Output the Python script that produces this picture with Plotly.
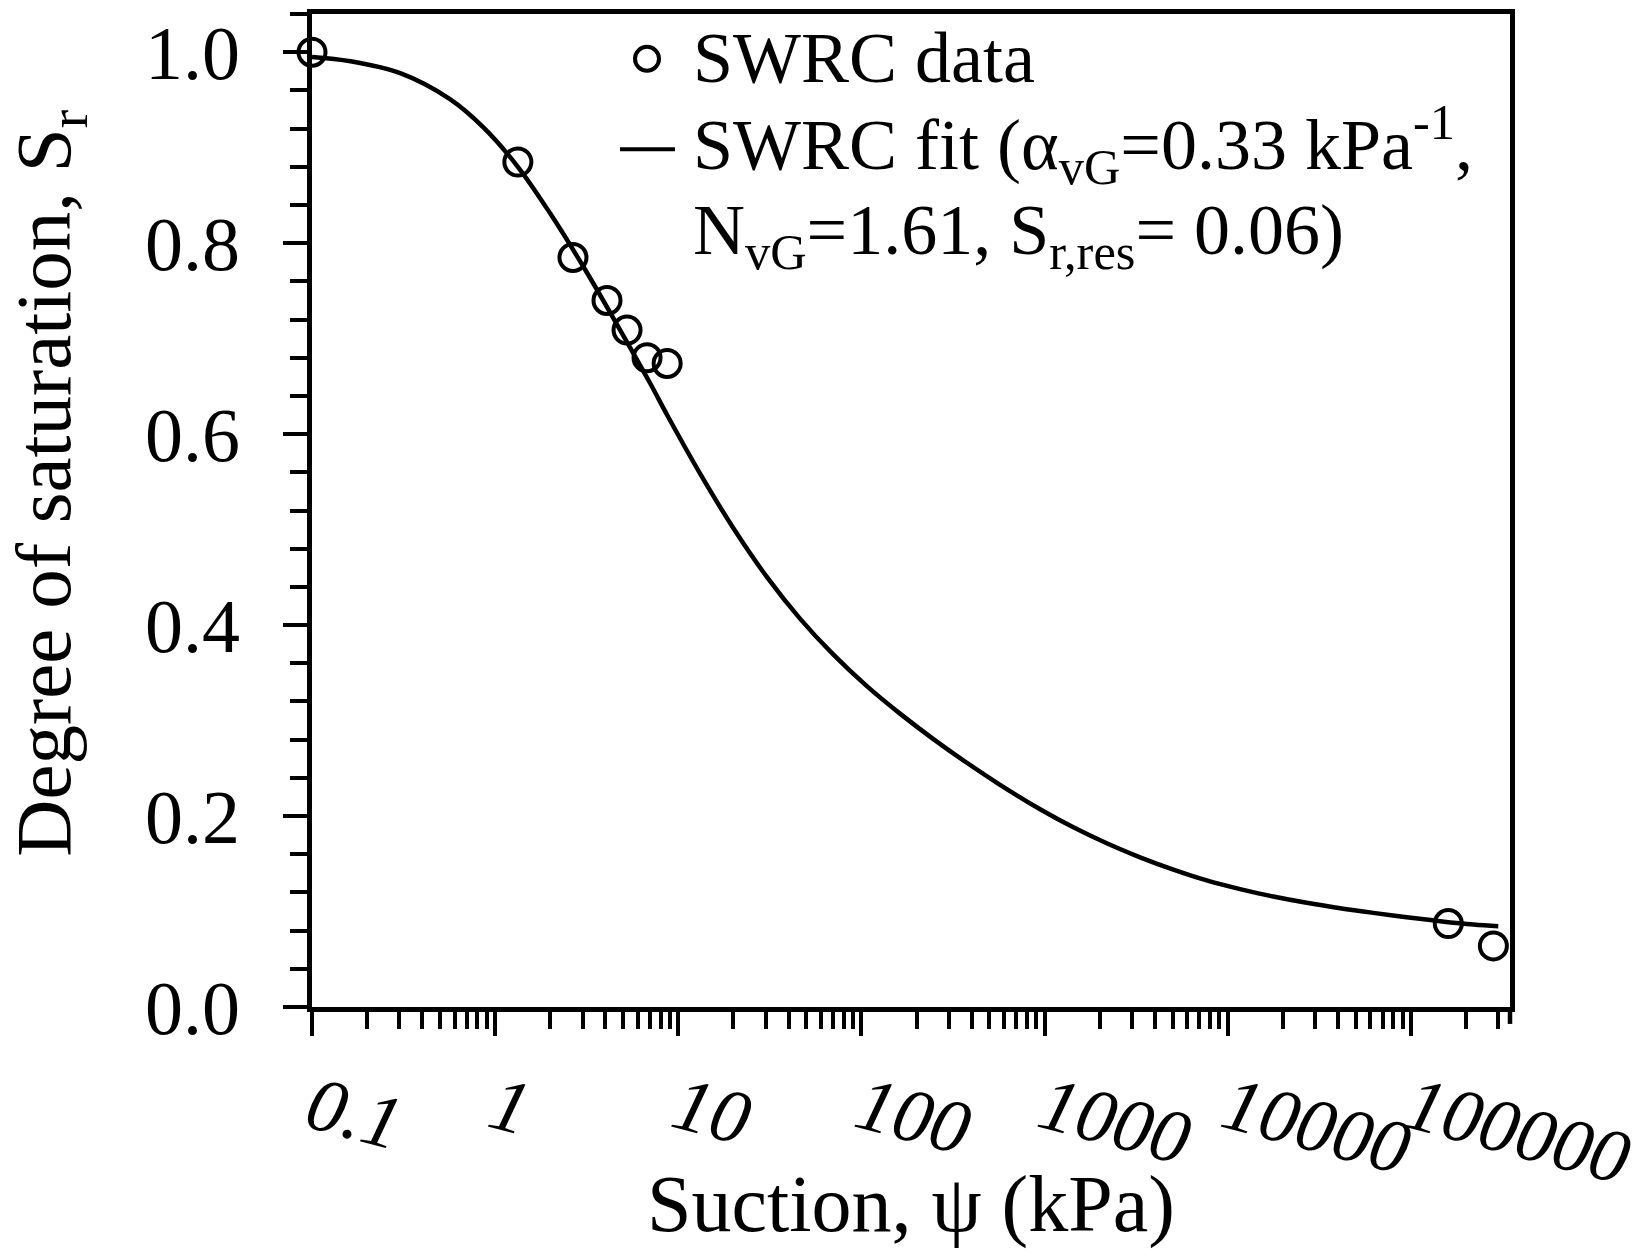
import plotly.graph_objects as go

# Measured soil-water retention data: suction (kPa) vs degree of saturation
data_suction = [0.1, 1.33, 2.66, 4.08, 5.25, 6.75, 8.69, 160000, 282000]
data_sr = [1.0, 0.885, 0.785, 0.740, 0.709, 0.680, 0.674, 0.0874, 0.064]

# Fitted van Genuchten curve, sampled along its length
fit_suction = [0.1, 0.162, 0.303, 0.569, 0.865, 1.33, 2.0, 3.04, 4.62, 7.03,
               8.69, 13.2, 20.0, 30.5, 46.3, 70.3, 107, 163, 247, 376,
               571, 945, 1435, 2183, 3319, 5047, 7674, 11670, 17740, 26980,
               41020, 62370, 94840, 144200, 219300, 299900]
fit_sr = [0.995, 0.9905, 0.978, 0.9506, 0.921, 0.880, 0.831, 0.775, 0.715, 0.653,
          0.6200, 0.5581, 0.5014, 0.4502, 0.4065, 0.3690, 0.3361, 0.3070, 0.2806, 0.2558,
          0.2327, 0.2071, 0.1882, 0.1715, 0.1568, 0.1439, 0.1326, 0.1235, 0.1157, 0.1091,
          0.1035, 0.0986, 0.0941, 0.0899, 0.0863, 0.0845]

# Axis ticks
x_tickvals = [0.1, 1, 10, 100, 1000, 10000, 100000]
x_ticktext = ["0.1", "1", "10", "100", "1000", "10000", "100000"]
x_minor = [m * d for d in [0.1, 1, 10, 100, 1000, 10000, 100000] for m in range(2, 10)]
y_tickvals = [0.0, 0.2, 0.4, 0.6, 0.8, 1.0]
y_ticktext = ["0.0", "0.2", "0.4", "0.6", "0.8", "1.0"]
y_minor = [0.04, 0.08, 0.12, 0.16, 0.24, 0.28, 0.32, 0.36, 0.44, 0.48, 0.52, 0.56,
           0.64, 0.68, 0.72, 0.76, 0.84, 0.88, 0.92, 0.96, 1.04]

# Legend entries
legend_data_label = "SWRC data"
legend_fit_line1 = "SWRC fit (α<sub>vG</sub>=0.33 kPa<sup>-1</sup>,"
legend_fit_line2 = "N<sub>vG</sub>=1.61, S<sub>r,res</sub>= 0.06)"

FONT = "Liberation Serif, Times New Roman, serif"
W, H = 1651, 1257
L, R, T, B = 312, 141, 9, 250
plot_w = W - L - R
plot_h = H - T - B
AXIS_W = 4.5


def px(xp):
    """Horizontal page pixel -> paper fraction."""
    return (xp - L) / plot_w


def py(yp):
    """Vertical page pixel -> paper fraction."""
    return (T + plot_h - yp) / plot_h


fig = go.Figure()
fig.add_trace(go.Scatter(
    x=data_suction, y=data_sr, mode="markers", name=legend_data_label,
    marker=dict(symbol="circle-open", size=27, color="black", line=dict(width=4, color="black")),
    cliponaxis=False, showlegend=False,
))
fig.add_trace(go.Scatter(
    x=fit_suction, y=fit_sr, mode="lines", name="SWRC fit",
    line=dict(color="black", width=4.5, shape="spline", smoothing=1.0),
    showlegend=False,
))

legend_font = dict(family=FONT, size=72, color="black")
annotations = [
    dict(text=legend_data_label, xref="paper", yref="paper", x=px(691), y=py(53),
         xanchor="left", yanchor="middle", showarrow=False, font=legend_font),
    dict(text=legend_fit_line1, xref="paper", yref="paper", x=px(691), y=py(140),
         xanchor="left", yanchor="middle", showarrow=False, font=legend_font),
    dict(text=legend_fit_line2, xref="paper", yref="paper", x=px(691), y=py(231),
         xanchor="left", yanchor="middle", showarrow=False, font=legend_font),
    dict(text="Suction, ψ (kPa)", xref="paper", yref="paper",
         x=0.5, y=py(1205), xanchor="center", yanchor="middle", showarrow=False,
         font=dict(family=FONT, size=80, color="black")),
    dict(text="Degree of saturation, S<sub>r</sub>", xref="paper", yref="paper",
         x=px(50), y=py(481), xanchor="center", yanchor="middle", textangle=-90,
         showarrow=False, font=dict(family=FONT, size=79, color="black")),
]

shapes = [
    # legend glyphs
    dict(type="circle", xref="paper", yref="paper",
         x0=px(635), x1=px(659), y0=py(66), y1=py(42),
         line=dict(color="black", width=4)),
    dict(type="line", xref="paper", yref="paper",
         x0=px(620), x1=px(675), y0=py(145), y1=py(145),
         line=dict(color="black", width=4)),
    # short tick extending the right frame below the axis
    dict(type="line", xref="paper", yref="paper", x0=1, x1=1, y0=0, y1=-17 / plot_h,
         line=dict(color="black", width=AXIS_W)),
]

fig.update_layout(
    width=W, height=H,
    margin=dict(l=L, r=R, t=T, b=B),
    paper_bgcolor="white", plot_bgcolor="white",
    font=dict(family=FONT, color="black"),
    showlegend=False,
    xaxis=dict(
        type="log", range=[-1, 5.541],
        showline=True, linewidth=AXIS_W, linecolor="black", mirror=True,
        showgrid=False, zeroline=False,
        tickvals=x_tickvals, ticktext=x_ticktext,
        ticks="outside", ticklen=24, tickwidth=4, tickcolor="black",
        tickangle=15,
        tickfont=dict(family=FONT, size=76, style="italic", color="black"),
        ticklabelstandoff=0,
        minor=dict(tickvals=x_minor, ticks="outside", ticklen=17, tickwidth=4,
                   tickcolor="black", showgrid=False),
    ),
    yaxis=dict(
        range=[0, 1.04],
        showline=True, linewidth=AXIS_W, linecolor="black", mirror=True,
        showgrid=False, zeroline=False,
        tickvals=y_tickvals, ticktext=y_ticktext,
        ticks="outside", ticklen=24, tickwidth=4, tickcolor="black",
        tickfont=dict(family=FONT, size=76, color="black"),
        ticklabelstandoff=28,
        minor=dict(tickvals=y_minor, ticks="outside", ticklen=17, tickwidth=4,
                   tickcolor="black", showgrid=False),
    ),
    annotations=annotations,
    shapes=shapes,
)

fig.write_html("out.html")
